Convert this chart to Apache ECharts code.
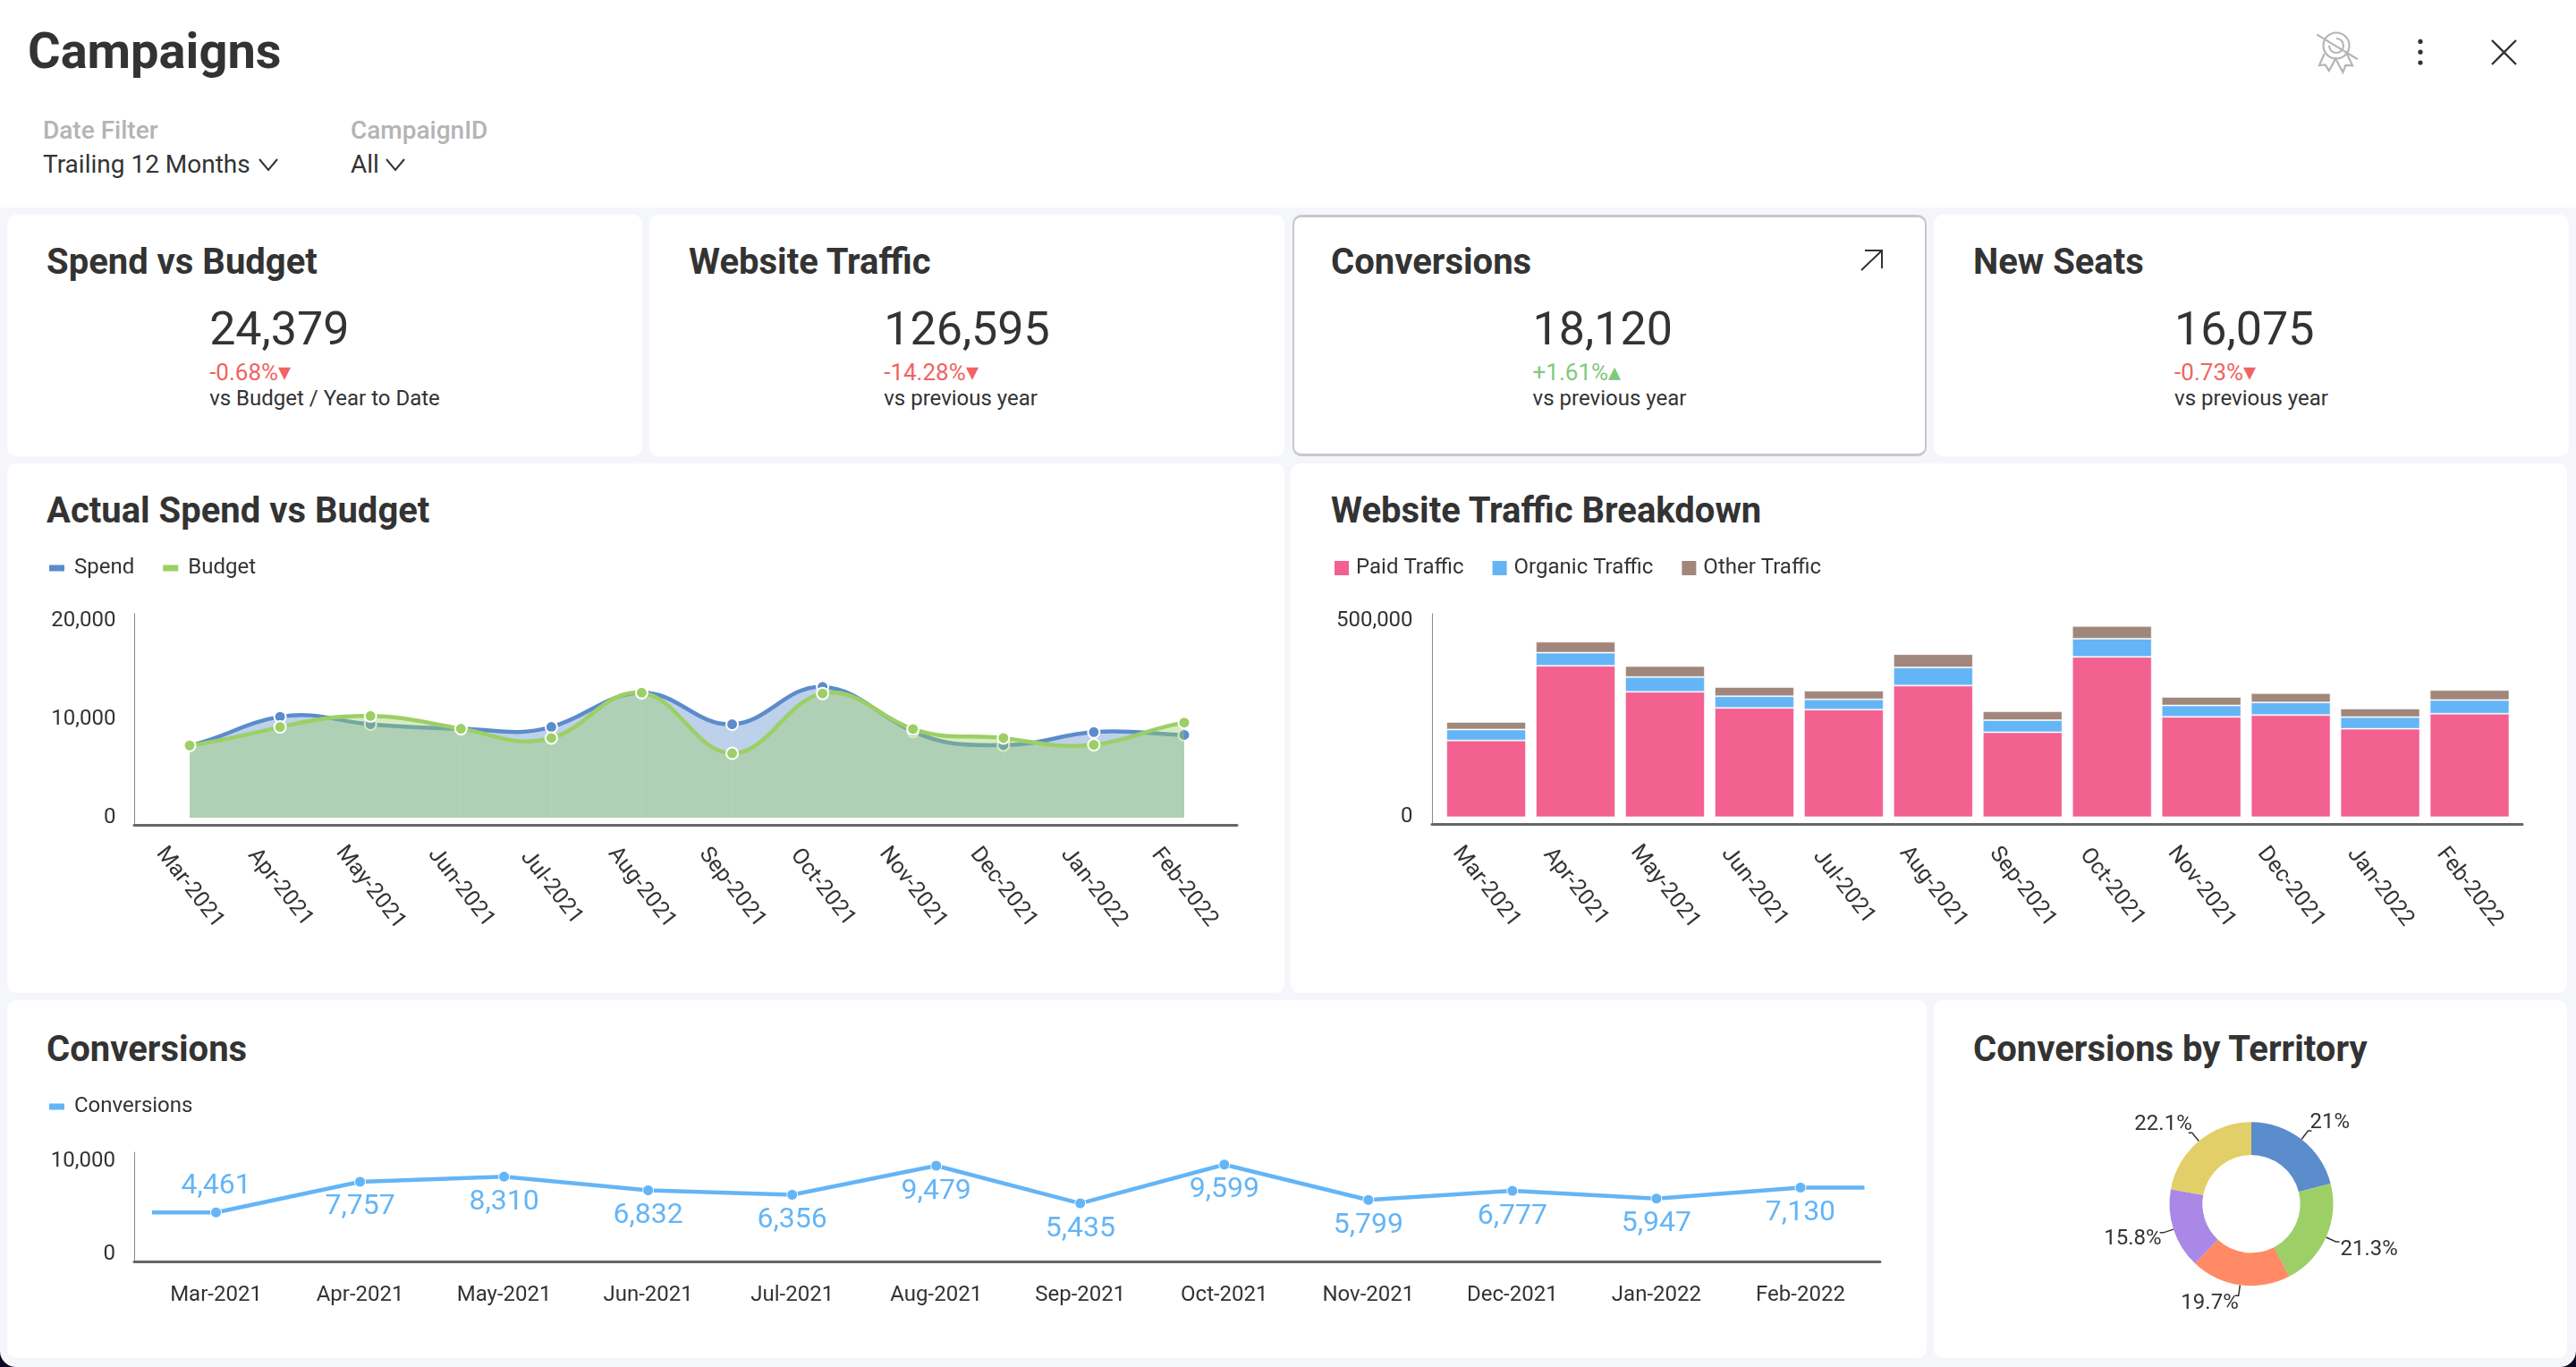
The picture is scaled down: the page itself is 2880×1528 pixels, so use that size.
<!DOCTYPE html>
<html>
<head>
<meta charset="utf-8">
<title>Campaigns</title>
<script src="https://cdn.jsdelivr.net/npm/echarts@6/dist/echarts.min.js"></script>
<style>
    html, body { margin: 0; padding: 0; background: #0d0824; }
    #app { position: relative; width: 2880px; height: 1528px; overflow: hidden; background: #f5f6fa;
           border-radius: 0 0 18px 18px; font-family: Roboto, sans-serif; color: #333; }
    #header { position: absolute; left: 0; top: 0; width: 2880px; height: 232px; background: #fff; }
    .card { position: absolute; background: #fff; border-radius: 10px; box-sizing: border-box; }
    .card.selected { border: 2px solid #c8c8cc; border-top-width: 3px; border-bottom-width: 3px; }
    .txt { position: absolute; white-space: nowrap; line-height: 1; transform: translateY(-50%); }
    .title { font-size: 40px; font-weight: 700; color: #333; }
    .kpi { position: absolute; top: 342px; display: flex; justify-content: center; }
    .kpi-value { font-size: 52px; line-height: 52px; color: #333; }
    .kpi-delta { font-size: 26px; line-height: 27px; margin-top: 9px; }
    .kpi-delta span { font-size: 28px; line-height: 0; }
    .kpi-note { font-size: 24px; line-height: 24px; margin-top: 3px; color: #333; }
    svg { position: absolute; overflow: visible; }
    #chart { position: absolute; left: 0; top: 0; width: 2880px; height: 1528px; }
</style>
</head>
<body>
<div id="app">
    <div id="header"></div>
    <div class="txt" style="left:31px;top:57px;font-size:56px;font-weight:700;">Campaigns</div>
    <div class="txt" style="left:48px;top:146px;font-size:28px;font-weight:500;color:#b4b4b4;">Date Filter</div>
    <div class="txt" style="left:48px;top:184px;font-size:28px;">Trailing 12 Months</div>
    <div class="txt" style="left:392px;top:146px;font-size:28px;font-weight:500;color:#b4b4b4;">CampaignID</div>
    <div class="txt" style="left:392px;top:184px;font-size:28px;">All</div>
    <svg width="2880" height="232" style="left:0;top:0;" fill="none" stroke="#333" stroke-width="2">
        <path d="M290 178 L300 190 L310 178"/>
        <path d="M432 178 L442 190 L452 178"/>
        <!-- 右上角图标 -->
        <g transform="translate(2585,30)" stroke="#b5b5b5" stroke-width="2.2">
            <circle cx="27" cy="21" r="14.5"/>
            <path d="M27 13 a8 8 0 1 1 -8 8"/>
            <path d="M13.7 30 L8 43 L14.7 42.4 L18.8 49 L26.2 35.6 L34.3 50.8 L37.4 43 L45.1 43.4 L39 30.5"/>
            <path d="M5.3 8.6 L50.9 36.3"/>
        </g>
        <g fill="#333" stroke="none">
            <circle cx="2706" cy="46.4" r="2.6"/>
            <circle cx="2706" cy="58.2" r="2.6"/>
            <circle cx="2706" cy="70" r="2.6"/>
        </g>
        <path d="M2786 45 L2813 72 M2813 45 L2786 72" stroke-width="2.4"/>
    </svg>
    <div id="cards"></div>
    <svg width="30" height="30" style="left:2078px;top:276px;" fill="none" stroke="#333" stroke-width="2">
        <path d="M3 26 L26 4 M7 4 L26 4 L26 24"/>
    </svg>
    <div id="chart"></div>
</div>
<script>
// 图表数据
const months = ['Mar-2021', 'Apr-2021', 'May-2021', 'Jun-2021', 'Jul-2021', 'Aug-2021', 'Sep-2021', 'Oct-2021', 'Nov-2021', 'Dec-2021', 'Jan-2022', 'Feb-2022'];
const spend = [7340, 10260, 9495, 9040, 9220, 12700, 9495, 13290, 8765, 7375, 8695, 8420];
const budget = [7340, 9220, 10330, 9040, 8100, 12700, 6540, 12625, 9010, 8100, 7410, 9670];
const paidTraffic = [195460, 385690, 319370, 278360, 274000, 335080, 216400, 408380, 255670, 260030, 225130, 263530];
const organicTraffic = [27920, 33160, 37520, 29670, 26180, 46250, 30540, 46250, 28800, 32290, 29670, 34900];
const otherTraffic = [19200, 27920, 27920, 23560, 21820, 34030, 22690, 32290, 21820, 23560, 21820, 25300];
const conversions = [4461, 7757, 8310, 6832, 6356, 9479, 5435, 9599, 5799, 6777, 5947, 7130];
const territoryShares = [21, 21.3, 19.7, 15.8, 22.1];

const kpiTitles = ['Spend vs Budget', 'Website Traffic', 'Conversions', 'New Seats'];
const kpiValues = ['24,379', '126,595', '18,120', '16,075'];
const kpiDeltas = ['-0.68%', '-14.28%', '+1.61%', '-0.73%'];
const kpiNotes = ['vs Budget / Year to Date', 'vs previous year', 'vs previous year', 'vs previous year'];

// 颜色
const BLUE = '#5b8ccb', GREEN = '#9ccf65', SKY = '#64b5f6';
const PINK = '#f26190', BROWN = '#a1877b', RED = '#ef6461', UP = '#7fc97f';
const TERRITORY_COLORS = [BLUE, GREEN, '#ff8a65', '#a988e8', '#e3cf68'];
const AXIS_COLOR = '#666', TEXT_COLOR = '#333';
const FONT = 'Roboto, sans-serif';

// 卡片和标题
function addCard(parent, x, y, w, h, selected) {
    const card = document.createElement('div');
    card.className = selected ? 'card selected' : 'card';
    card.style.cssText = `left:${x}px;top:${y}px;width:${w}px;height:${h}px;`;
    parent.appendChild(card);
}

function addTitle(parent, text, x, y) {
    const t = document.createElement('div');
    t.className = 'txt title';
    t.style.cssText = `left:${x}px;top:${y}px;`;
    t.textContent = text;
    parent.appendChild(t);
}

function buildCards() {
    const root = document.getElementById('cards');
    const kpiX = [8, 726, 1445, 2162];
    kpiX.forEach((x, i) => {
        const selected = i === 2;
        addCard(root, x, 240, i === 2 ? 709 : 710, 270, selected);
        addTitle(root, kpiTitles[i], [52, 770, 1488, 2206][i], 293);

        const isUp = kpiDeltas[i][0] === '+';
        const kpi = document.createElement('div');
        kpi.className = 'kpi';
        kpi.style.cssText = `left:${x}px;width:${i === 2 ? 709 : 710}px;`;
        kpi.innerHTML = `<div>
            <div class="kpi-value">${kpiValues[i]}</div>
            <div class="kpi-delta" style="color:${isUp ? UP : RED}">${kpiDeltas[i]}<span>${isUp ? '▴' : '▾'}</span></div>
            <div class="kpi-note">${kpiNotes[i]}</div>
        </div>`;
        root.appendChild(kpi);
    });
    addCard(root, 8, 518, 1428, 592);
    addTitle(root, 'Actual Spend vs Budget', 52, 571);
    addCard(root, 1443, 518, 1427, 592);
    addTitle(root, 'Website Traffic Breakdown', 1488, 571);
    addCard(root, 8, 1118, 2146, 400);
    addTitle(root, 'Conversions', 52, 1173);
    addCard(root, 2162, 1118, 708, 400);
    addTitle(root, 'Conversions by Territory', 2206, 1173);
}

// 数据区 grid 和只画轴线的 grid 分开，轴线比数据区长一点
const grids = [
    { left: 161.5, top: 694, width: 1213, height: 220 },
    { left: 150, top: 686, width: 1233, height: 236 },
    { left: 1611.6, top: 694, width: 1199.4, height: 219.4 },
    { left: 1601, top: 686, width: 1219, height: 235 },
    { left: 161, top: 1297.6, width: 1932.5, height: 104 },
    { left: 150, top: 1288, width: 1952, height: 122 }
].map(g => Object.assign(g, { outerBoundsMode: 'none' }));

function monthAxis(gridIndex, rotate, margin) {
    return {
        type: 'category', gridIndex, data: months,
        axisLine: { show: false }, axisTick: { show: false },
        axisLabel: Object.assign(
            { interval: 0, rotate, margin, color: TEXT_COLOR, fontSize: rotate ? 25 : 24, fontFamily: FONT },
            rotate ? { align: 'center', verticalAlign: 'middle' } : {})
    };
}

function valueAxis(gridIndex, max, margin) {
    return {
        type: 'value', gridIndex, min: 0, max, interval: max / (max === 20000 ? 2 : 1),
        axisLine: { show: false }, axisTick: { show: false }, splitLine: { show: false },
        axisLabel: { margin, color: TEXT_COLOR, fontSize: 24, fontFamily: FONT,
            formatter: v => v.toLocaleString('en-US') }
    };
}

function frameX(gridIndex) {
    return { type: 'value', gridIndex, min: 0, max: 1, axisLabel: { show: false }, axisTick: { show: false }, splitLine: { show: false },
        axisLine: { show: true, lineStyle: { color: AXIS_COLOR, width: 3 } } };
}

function frameY(gridIndex) {
    return { type: 'value', gridIndex, min: 0, max: 1, axisLabel: { show: false }, axisTick: { show: false }, splitLine: { show: false },
        axisLine: { show: true, lineStyle: { color: '#888', width: 1 } } };
}

// 原图的曲线比 ECharts 的 smooth 更圆，会越过数据点，所以用 custom 系列逐段画
const HANDLE_X = 0.4;      // 控制点横向距离，单位是类目带宽
const HANDLE_Y = 0.27;     // 控制点纵向距离，相对前后点的差值

function splineSeries(name, values, color, z) {
    const last = values.length - 1;
    const handle = (api, i) => {
        const prev = api.coord([Math.max(i - 1, 0), values[Math.max(i - 1, 0)]]);
        const next = api.coord([Math.min(i + 1, last), values[Math.min(i + 1, last)]]);
        return (next[1] - prev[1]) * HANDLE_Y;
    };
    return {
        type: 'custom', name, z, xAxisIndex: 0, yAxisIndex: 0, clip: false,
        data: values.map((v, i) => [i, v]),
        encode: { x: 0, y: 1 },
        itemStyle: { color },
        renderItem: function(params, api) {
            const i = params.dataIndex;
            const p = api.coord([i, values[i]]);
            const children = [];
            if (i < last) {
                const q = api.coord([i + 1, values[i + 1]]);
                const hx = (q[0] - p[0]) * HANDLE_X;
                const base = api.coord([i, 0])[1];
                const curve = `M${p[0]} ${p[1]} C${p[0] + hx} ${p[1] + handle(api, i)} ${q[0] - hx} ${q[1] - handle(api, i + 1)} ${q[0]} ${q[1]}`;
                children.push({
                    type: 'path', z2: 0, silent: true,
                    shape: { pathData: `${curve} L${q[0]} ${base} L${p[0]} ${base} Z` },
                    style: { fill: color, opacity: 0.4 }
                });
                children.push({
                    type: 'path', z2: 1, silent: true,
                    shape: { pathData: curve },
                    style: { fill: 'none', stroke: color, lineWidth: 4.5 }
                });
            }
            children.push({
                type: 'circle', z2: 2,
                shape: { cx: p[0], cy: p[1], r: 6.5 },
                style: { fill: color, stroke: '#fff', lineWidth: 2 }
            });
            return { type: 'group', children };
        }
    };
}

function barSeries(name, data, color) {
    return {
        type: 'bar', name, data, stack: 'traffic', barWidth: '89%',
        xAxisIndex: 2, yAxisIndex: 2,
        itemStyle: { color, borderColor: 'rgba(255,255,255,0.55)', borderWidth: 1 }
    };
}

function legend(left, top, names, itemWidth, itemHeight, textPad) {
    return {
        left, top, data: names, icon: 'rect', itemWidth, itemHeight, itemGap: 32,
        itemStyle: { borderWidth: 0 }, selectedMode: false,
        textStyle: { color: TEXT_COLOR, fontSize: 24, fontFamily: FONT, padding: [0, 0, 0, textPad] }
    };
}

// 饼图标签的微调
const PIE_LABEL_SHIFT = [[-7, -9], [-4, 9], [9, 9], [7, 7], [9, -9]];

function buildOption() {
    // 折线两端多出来的短线，落在一条隐藏的数值轴上（单位是类目带宽）
    const STUB = 0.444;
    const last = conversions.length - 1;
    return {
        animation: false,
        grid: grids,
        legend: [
            legend(50, 618, ['Spend', 'Budget'], 17, 7, 6),
            legend(1487, 618, ['Paid Traffic', 'Organic Traffic', 'Other Traffic'], 16, 16, 3),
            legend(50, 1220, ['Conversions'], 17, 7, 6)
        ],
        xAxis: [
            monthAxis(0, -52, 78), frameX(1),
            monthAxis(2, -52, 78), frameX(3),
            monthAxis(4, 0, 34), frameX(5),
            { type: 'value', gridIndex: 4, show: false, min: -0.5, max: last + 0.5 }
        ],
        yAxis: [
            valueAxis(0, 20000, 32), frameY(1),
            valueAxis(2, 500000, 32), frameY(3),
            valueAxis(4, 10000, 32), frameY(5)
        ],
        series: [
            splineSeries('Spend', spend, BLUE, 2),
            splineSeries('Budget', budget, GREEN, 3),
            barSeries('Paid Traffic', paidTraffic, PINK),
            barSeries('Organic Traffic', organicTraffic, SKY),
            barSeries('Other Traffic', otherTraffic, BROWN),
            {
                type: 'line', name: 'ends', xAxisIndex: 6, yAxisIndex: 4, symbol: 'none', silent: true,
                data: [[-STUB, conversions[0]], [0, conversions[0]], [null, null], [last, conversions[last]], [last + STUB, conversions[last]]],
                lineStyle: { color: SKY, width: 4.5 }
            },
            {
                type: 'line', name: 'Conversions', xAxisIndex: 4, yAxisIndex: 4,
                symbol: 'circle', symbolSize: 12,
                lineStyle: { color: SKY, width: 4.5 },
                itemStyle: { color: SKY, borderColor: '#fff', borderWidth: 1 },
                data: conversions.map((v, i) => ({
                    value: v,
                    label: i === 0 ? { position: 'top', distance: 7 } : { position: 'bottom', distance: 6 }
                })),
                label: { show: true, color: SKY, fontSize: 32, fontFamily: FONT,
                    formatter: p => p.value.toLocaleString('en-US') }
            },
            {
                type: 'pie', radius: [54.7, 91.5], center: [2517, 1345.7], startAngle: 90, clockwise: true,
                data: territoryShares.map((v, i) => ({ value: v, name: v + '%', itemStyle: { color: TERRITORY_COLORS[i] } })),
                label: { color: TEXT_COLOR, fontSize: 24, fontFamily: FONT, formatter: '{b}' },
                labelLine: { length: 12, length2: 4, lineStyle: { color: TEXT_COLOR, width: 1.5 } },
                labelLayout: p => ({ dx: PIE_LABEL_SHIFT[p.dataIndex][0], dy: PIE_LABEL_SHIFT[p.dataIndex][1] })
            }
        ]
    };
}

window.onload = function() {
    buildCards();
    const chart = echarts.init(document.getElementById('chart'));
    chart.setOption(buildOption());
};
</script>
</body>
</html>
